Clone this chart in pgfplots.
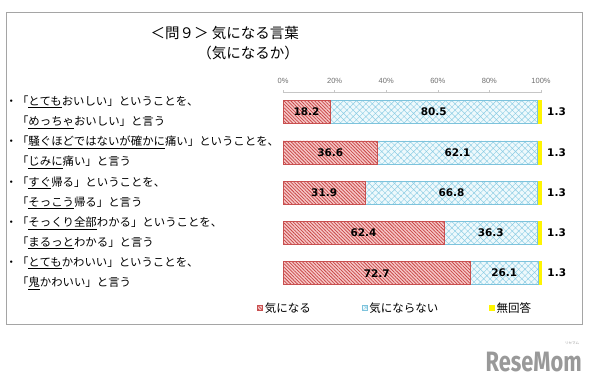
\documentclass[border=0pt]{standalone}
\usepackage{pgfplots}
\pgfplotsset{compat=1.18}
\usepackage{pgfplotstable}
\usetikzlibrary{patterns.meta}
\usepackage{fontspec}
\setmainfont{Noto Sans CJK JP}
\newfontfamily\cjk{Noto Sans CJK JP}
\newfontfamily\numfont{DejaVu Sans}
\newfontfamily\tickfont{Liberation Sans}
\newfontfamily\logofont{Fira Sans}

\definecolor{redline}{RGB}{200,80,80}
\definecolor{redfill}{RGB}{246,200,200}
\definecolor{redhatch}{RGB}{200,70,70}
\definecolor{blueline}{RGB}{125,195,220}
\definecolor{bluefill}{RGB}{238,249,252}
\definecolor{bluehatch}{RGB}{140,205,228}
\definecolor{yel}{RGB}{255,245,0}
\definecolor{framegray}{RGB}{165,165,165}
\definecolor{tickgray}{RGB}{110,110,110}

\pgfplotstableread{
row a b c
0 18.2 80.5 1.3
1 36.6 62.1 1.3
2 31.9 66.8 1.3
3 62.4 36.3 1.3
4 72.7 26.1 1.3
}\data

\begin{document}
\begin{tikzpicture}
\path[use as bounding box] (0pt,0pt) rectangle (594pt,-387pt);
\draw[framegray, line width=0.8pt] (6pt,-12pt) rectangle (582pt,-324pt);
\node[anchor=north east, align=right, inner sep=0pt, font=\cjk\fontsize{14.5}{20}\selectfont] at (299pt,-26pt) {＜問９＞ 気になる言葉\\（気になるか）};

\begin{axis}[
  at={(283pt,-92pt)}, anchor=north west,
  scale only axis, width=258pt, height=201.25pt,
  xmin=0, xmax=100, ymin=-0.5, ymax=4.5, y dir=reverse,
  xbar stacked, bar width=23pt,
  axis x line*=top, axis y line*=left,
  y axis line style={draw=none},
  x axis line style={draw=gray!45, line width=0.5pt},
  xtick={0,20,...,100},
  xticklabel={\pgfmathprintnumber{\tick}\%},
  xticklabel style={font=\tickfont\fontsize{7.5}{9}\selectfont, text=tickgray, yshift=3pt},
  /pgf/number format/assume math mode=true,
  x tick style={draw=gray!45, line width=0.5pt},
  major tick length=3pt, tick align=center,
  ytick={0,1,2,3,4},
  major y tick style={draw=none},
  yticklabels={
    {・「\underline{とても}おいしい」ということを、\\　「\underline{めっちゃ}おいしい」と言う},
    {・「\underline{騒ぐほどではないが確かに}痛い」ということを、\\　「\underline{じみに}痛い」と言う},
    {・「\underline{すぐ}帰る」ということを、\\　「\underline{そっこう}帰る」と言う},
    {・「\underline{そっくり全部}わかる」ということを、\\　「\underline{まるっと}わかる」と言う},
    {・「\underline{とても}かわいい」ということを、\\　「\underline{鬼}かわいい」と言う}},
  yticklabel style={anchor=west, xshift=-276pt, align=left, inner xsep=0pt, font=\cjk\fontsize{11.4}{20}\selectfont},
  clip=false,
  legend image code/.code={\draw[#1] (0pt,-2.5pt) rectangle (5pt,2.5pt);},
  legend style={at={(axis description cs:-0.1008,-0.0733)}, anchor=west, draw=none, fill=none,
    legend columns=3, inner sep=0pt,
    font=\cjk\fontsize{11.5}{13}\selectfont,
    /tikz/every odd column/.append style={column sep=0pt},
    /tikz/column 2/.style={column sep=49pt},
    /tikz/column 4/.style={column sep=49pt}},
]
\addplot[draw=redline, line width=0.6pt, fill=redfill,
  postaction={pattern={Lines[angle=-45,distance=2.4pt,line width=0.75pt]}, pattern color=redhatch}]
  table[x=a, y=row] {\data};
\addlegendentry{気になる}
\addplot[draw=blueline, line width=0.6pt, fill=bluefill,
  postaction={pattern={Hatch[angle=45,distance=4.5pt,line width=0.45pt]}, pattern color=bluehatch}]
  table[x=b, y=row] {\data};
\addlegendentry{気にならない}
\addplot[draw=yel, line width=0.3pt, fill=yel]
  table[x=c, y=row] {\data};
\addlegendentry{無回答}
\end{axis}

\begin{axis}[
  at={(283pt,-92pt)}, anchor=north west,
  scale only axis, width=258pt, height=201.25pt,
  xmin=0, xmax=100, ymin=-0.5, ymax=4.5, y dir=reverse,
  hide axis, clip=false,
  /pgf/number format/assume math mode=true,
  nodes near coords={\pgfmathprintnumber[fixed,fixed zerofill,precision=1,assume math mode=true]{\pgfplotspointmeta}},
  point meta=explicit,
]
\addplot[only marks, mark=none, nodes near coords style={anchor=center, font=\numfont\bfseries\fontsize{10.5}{12}\selectfont}]
  table[x expr=\thisrow{a}/2, y=row, meta=a] {\data};
\addplot[only marks, mark=none, nodes near coords style={anchor=center, font=\numfont\bfseries\fontsize{10.5}{12}\selectfont}]
  table[x expr=\thisrow{a}+\thisrow{b}/2, y=row, meta=b] {\data};
\addplot[only marks, mark=none, nodes near coords style={anchor=west, inner xsep=0pt, xshift=6pt, font=\numfont\bfseries\fontsize{10.5}{12}\selectfont}]
  table[x expr=\thisrow{a}+\thisrow{b}+\thisrow{c}, y=row, meta=c] {\data};
\end{axis}

\node[anchor=south east, inner sep=0pt, text=gray!80, font=\logofont\bfseries\fontsize{28}{30}\selectfont, xscale=0.78, transform shape] at (582pt,-372pt) {ReseMom};
\node[anchor=south, inner sep=0pt, text=gray!80, font=\cjk\fontsize{3.5}{4}\selectfont] at (572pt,-345pt) {リセマム};
\end{tikzpicture}
\end{document}
